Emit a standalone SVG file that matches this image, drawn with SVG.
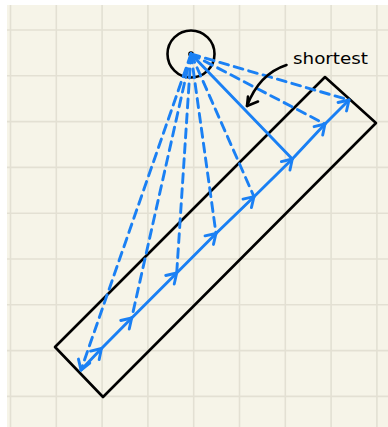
<svg xmlns="http://www.w3.org/2000/svg" width="388" height="427" viewBox="0 0 388 427">
  <style>
    .grid { stroke: #e3e0d3; stroke-width: 1.6; }
    .blue { stroke: #1a80f4; stroke-width: 2.9; fill: none; stroke-linecap: round; stroke-linejoin: round; }
    .dash { stroke-dasharray: 9 6; }
    .ink { stroke: #000; stroke-width: 2.6; fill: none; stroke-linecap: round; stroke-linejoin: round; }
    .label { font-family: "DejaVu Sans", "Liberation Sans", sans-serif; font-size: 16px; fill: #000; }
  </style>
  <defs>
    <marker id="ah" markerUnits="userSpaceOnUse" markerWidth="20" markerHeight="20" refX="0" refY="0" viewBox="-12 -10 14 20" orient="auto" overflow="visible">
      <path d="M-9.5,-6 L0,0 L-9.5,6" fill="none" stroke="#1a80f4" stroke-width="2.9" stroke-linecap="round" stroke-linejoin="round"/>
    </marker>
  </defs>

  <rect x="0" y="0" width="388" height="427" fill="#ffffff"/>
  <rect x="7" y="5" width="381" height="422" fill="#f6f4e8"/>
  <g id="grid">
    <line class="grid" x1="10.5" y1="5" x2="10.5" y2="427"/>
    <line class="grid" x1="56.3" y1="5" x2="56.3" y2="427"/>
    <line class="grid" x1="102.1" y1="5" x2="102.1" y2="427"/>
    <line class="grid" x1="147.9" y1="5" x2="147.9" y2="427"/>
    <line class="grid" x1="193.7" y1="5" x2="193.7" y2="427"/>
    <line class="grid" x1="239.5" y1="5" x2="239.5" y2="427"/>
    <line class="grid" x1="285.3" y1="5" x2="285.3" y2="427"/>
    <line class="grid" x1="331.1" y1="5" x2="331.1" y2="427"/>
    <line class="grid" x1="376.9" y1="5" x2="376.9" y2="427"/>
    <line class="grid" x1="7" y1="30" x2="388" y2="30"/>
    <line class="grid" x1="7" y1="75.8" x2="388" y2="75.8"/>
    <line class="grid" x1="7" y1="121.6" x2="388" y2="121.6"/>
    <line class="grid" x1="7" y1="167.4" x2="388" y2="167.4"/>
    <line class="grid" x1="7" y1="213.2" x2="388" y2="213.2"/>
    <line class="grid" x1="7" y1="259" x2="388" y2="259"/>
    <line class="grid" x1="7" y1="304.8" x2="388" y2="304.8"/>
    <line class="grid" x1="7" y1="350.6" x2="388" y2="350.6"/>
    <line class="grid" x1="7" y1="396.4" x2="388" y2="396.4"/>
  </g>

  <g id="rectangle">
    <polygon class="ink" stroke-linejoin="miter" points="55,347 325,77 376,123 103,397"/>
  </g>

  <g id="source">
    <circle class="ink" cx="191" cy="54" r="23.5"/>
    <circle cx="191" cy="54" r="2.8" fill="#000"/>
  </g>

  <g id="connectors">
    <line class="blue dash" x1="191" y1="54" x2="81" y2="370" marker-end="url(#ah)"/>
    <line class="blue dash" x1="191" y1="54" x2="131.7" y2="318"/>
    <line class="blue dash" stroke-dasharray="10 6 10 6 10 6 10 6 10 6 3 6 3 6" x1="191" y1="54" x2="176.7" y2="273"/>
    <line class="blue dash" x1="191" y1="54" x2="216" y2="233.5"/>
    <line class="blue dash" x1="191" y1="54" x2="254" y2="196.7"/>
    <line class="blue" x1="191" y1="54" x2="292.3" y2="159"/>
    <line class="blue dash" x1="191" y1="54" x2="325" y2="124"/>
    <line class="blue dash" x1="191" y1="54" x2="349" y2="100"/>
    <polyline class="blue" points="81,370 101.5,348.5 131.7,318 176.7,273 216,233.5 254,196.7 292.3,159 325,124 349,100" marker-mid="url(#ah)" marker-end="url(#ah)"/>
  </g>

  <g id="shortest-label">
    <text class="label" x="293" y="64" textLength="75" lengthAdjust="spacingAndGlyphs">shortest</text>
    <path class="ink" stroke-width="2" d="M286.5,65 Q259,74 247,106"/>
    <path class="ink" stroke-width="2" d="M248,96.5 L247,106 L258,101.5"/>
  </g>
</svg>
